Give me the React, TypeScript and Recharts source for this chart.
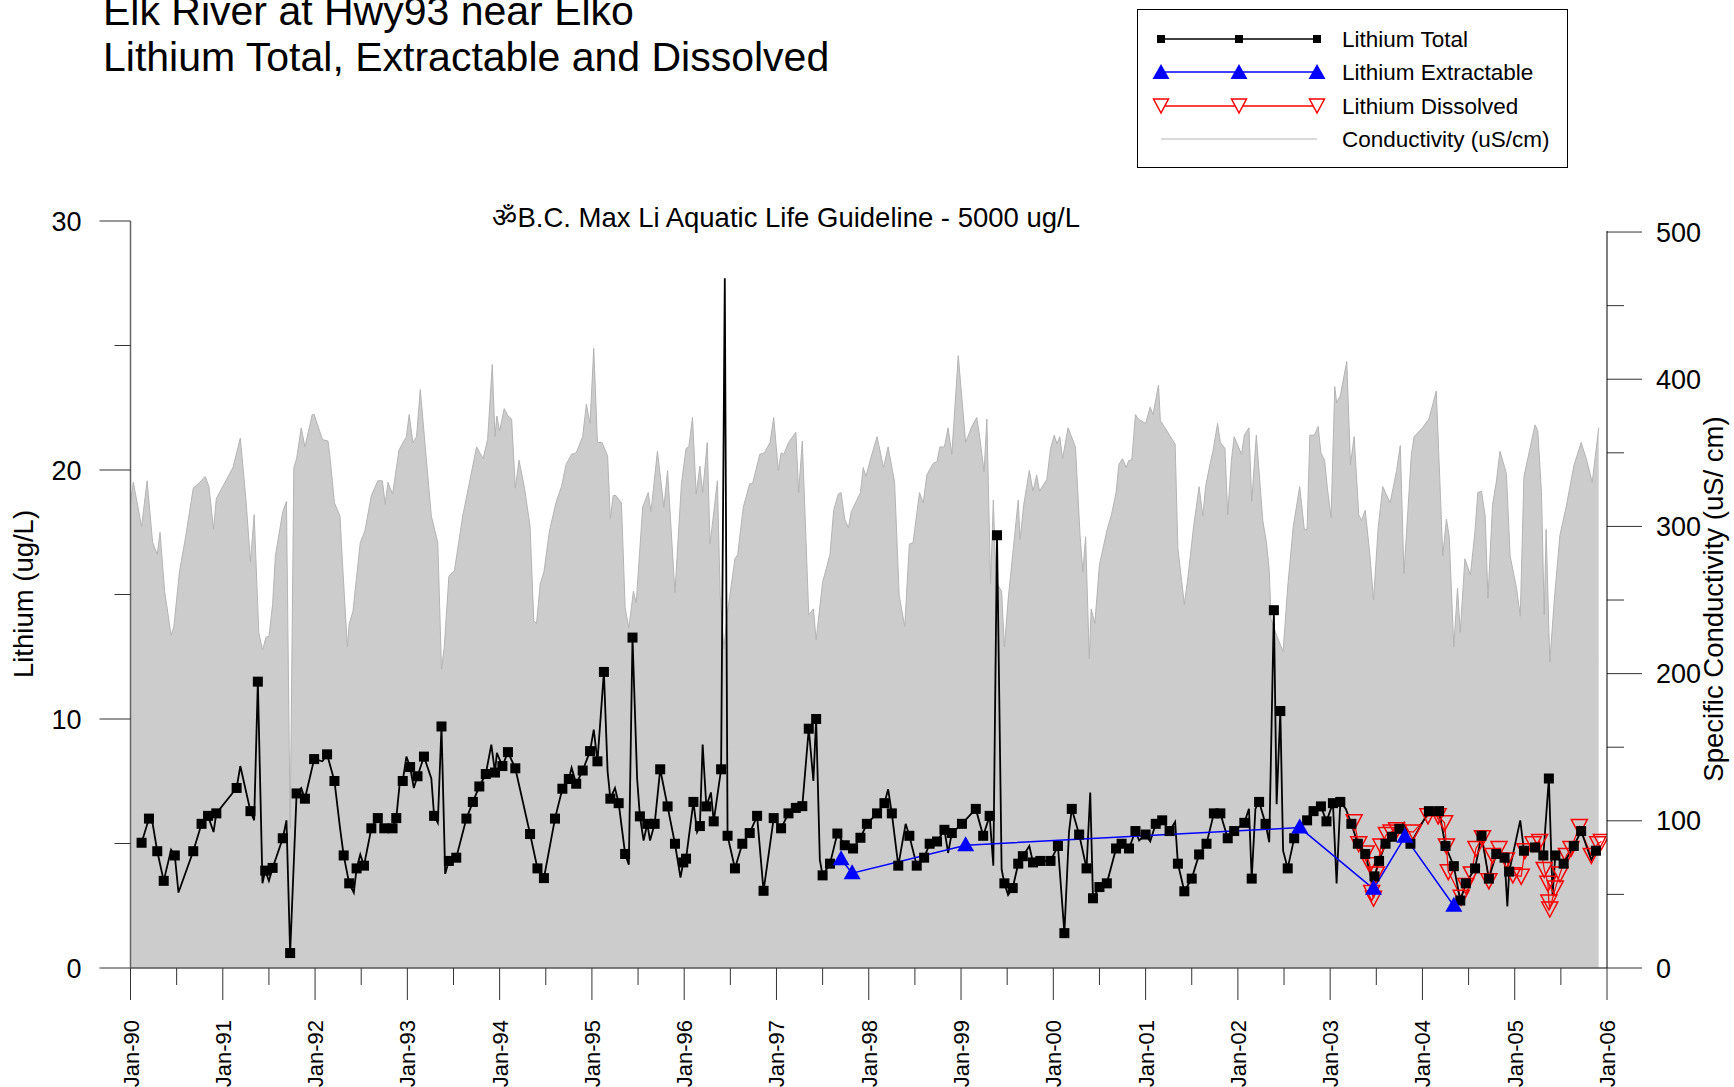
import { Area, ComposedChart, Line, XAxis, YAxis } from 'recharts'

const FONT = '"Liberation Sans", Arial, Helvetica, sans-serif'

// conductivity (uS/cm), decimal year
const condT = [
	1990.0, 1990.03, 1990.12, 1990.18, 1990.24, 1990.29, 1990.32, 1990.37, 1990.44, 1990.47, 1990.53, 1990.6, 1990.68, 1990.75,
	1990.81, 1990.85, 1990.9, 1990.93, 1991.11, 1991.19, 1991.25, 1991.3, 1991.34, 1991.39, 1991.43, 1991.47, 1991.5, 1991.54,
	1991.57, 1991.65, 1991.69, 1991.73, 1991.77, 1991.8, 1991.85, 1991.89, 1991.97, 1991.99, 1992.08, 1992.14, 1992.16, 1992.21,
	1992.27, 1992.3, 1992.35, 1992.37, 1992.41, 1992.49, 1992.54, 1992.61, 1992.68, 1992.73, 1992.76, 1992.79, 1992.84, 1992.91,
	1992.99, 1993.02, 1993.06, 1993.1, 1993.14, 1993.26, 1993.33, 1993.37, 1993.4, 1993.45, 1993.51, 1993.6, 1993.67, 1993.75,
	1993.82, 1993.87, 1993.92, 1993.95, 1993.97,
	1994.0, 1994.05, 1994.09, 1994.13, 1994.17, 1994.21, 1994.27, 1994.33, 1994.37, 1994.4, 1994.44, 1994.48, 1994.54, 1994.61,
	1994.67, 1994.72, 1994.78, 1994.83, 1994.9, 1994.94, 1994.98, 1995.02, 1995.06, 1995.11, 1995.17, 1995.2, 1995.23, 1995.26,
	1995.32, 1995.36, 1995.4, 1995.45, 1995.48, 1995.55, 1995.61, 1995.64, 1995.71, 1995.78, 1995.82, 1995.9, 1995.97, 1996.02,
	1996.05, 1996.09, 1996.13, 1996.17, 1996.2, 1996.25, 1996.28, 1996.36, 1996.39, 1996.43, 1996.47, 1996.55, 1996.58, 1996.64,
	1996.71, 1996.74, 1996.82, 1996.87, 1996.93, 1996.97, 1997.02, 1997.05, 1997.08, 1997.13, 1997.21, 1997.24, 1997.28, 1997.35,
	1997.4, 1997.43, 1997.5, 1997.58, 1997.62, 1997.67, 1997.7, 1997.74, 1997.78, 1997.81,
	1997.91, 1997.94, 1997.97, 1998.02, 1998.09, 1998.16, 1998.21, 1998.28, 1998.33, 1998.39, 1998.44, 1998.48, 1998.55, 1998.59,
	1998.63, 1998.7, 1998.74, 1998.77, 1998.82, 1998.86, 1998.9, 1998.97, 1999.05, 1999.11, 1999.17, 1999.2, 1999.25, 1999.28,
	1999.32, 1999.35, 1999.38, 1999.44, 1999.47, 1999.51, 1999.56, 1999.62, 1999.64, 1999.68, 1999.74, 1999.78, 1999.82, 1999.85,
	1999.93, 1999.97, 2000.01, 2000.04, 2000.07, 2000.1, 2000.16, 2000.24, 2000.29, 2000.32, 2000.35, 2000.39, 2000.41, 2000.45,
	2000.5, 2000.58, 2000.63, 2000.68, 2000.71, 2000.75, 2000.79, 2000.82, 2000.85, 2000.89, 2000.92, 2001.0, 2001.05, 2001.08,
	2001.14, 2001.16, 2001.2, 2001.32, 2001.35, 2001.42, 2001.46, 2001.52, 2001.58, 2001.62, 2001.65, 2001.7, 2001.73, 2001.78,
	2001.81, 2001.86, 2001.89, 2001.93, 2001.96, 2002.04, 2002.07, 2002.12, 2002.15, 2002.2, 2002.27, 2002.31, 2002.34, 2002.36,
	2002.42, 2002.49, 2002.54, 2002.6, 2002.67, 2002.72, 2002.75, 2002.78, 2002.83, 2002.87, 2002.9, 2002.94, 2002.97, 2003.01,
	2003.05, 2003.07, 2003.11, 2003.18, 2003.22, 2003.26, 2003.31, 2003.34, 2003.38, 2003.43, 2003.47, 2003.52, 2003.57, 2003.65,
	2003.72, 2003.76, 2003.8, 2003.88, 2003.91, 2004.0, 2004.07, 2004.15, 2004.19, 2004.22, 2004.26, 2004.29, 2004.34, 2004.38,
	2004.41, 2004.46, 2004.52, 2004.57, 2004.6, 2004.64, 2004.68, 2004.71, 2004.76, 2004.8, 2004.84, 2004.91, 2004.95, 2005.02,
	2005.06, 2005.1, 2005.22, 2005.25, 2005.29, 2005.32, 2005.34, 2005.38, 2005.43, 2005.49, 2005.56, 2005.64, 2005.72, 2005.78,
	2005.84, 2005.91,
]
const condV = [
	316, 330, 300, 331, 289, 281, 296, 256, 226, 232, 269, 294, 326, 330,
	334, 327, 298, 319, 340, 360, 319, 276, 308, 228, 216, 225, 225, 247,
	280, 310, 317, 95, 340, 346, 367, 354, 376, 376, 359, 358, 348, 316,
	307, 272, 218, 234, 242, 289, 297, 321, 331, 331, 315, 330, 322, 352,
	361, 376, 357, 361, 393, 307, 289, 203, 218, 266, 270, 307, 329, 354,
	346, 359, 410, 361, 375,
	365, 380, 375, 373, 326, 345, 326, 300, 236, 234, 261, 269, 297, 316,
	327, 342, 349, 350, 361, 383, 370, 421, 357, 357, 348, 305, 321, 321,
	316, 245, 231, 256, 248, 313, 323, 310, 351, 313, 338, 255, 329, 353,
	354, 374, 322, 341, 323, 357, 288, 331, 253, 217, 242, 278, 281, 313,
	329, 329, 349, 350, 357, 374, 338, 350, 349, 357, 364, 323, 358, 240,
	244, 223, 262, 281, 311, 322, 323, 305, 299, 310,
	323, 340, 334, 346, 361, 340, 354, 330, 253, 232, 288, 289, 323, 316,
	335, 343, 344, 354, 354, 367, 349, 416, 357, 367, 374, 362, 337, 373,
	261, 318, 262, 256, 218, 250, 281, 318, 291, 315, 338, 324, 335, 324,
	332, 353, 362, 356, 361, 346, 367, 354, 294, 269, 293, 210, 244, 234,
	274, 297, 308, 323, 342, 346, 340, 345, 345, 376, 373, 370, 381, 376,
	396, 372, 368, 356, 285, 247, 266, 300, 327, 307, 327, 343, 351, 370,
	357, 353, 308, 345, 361, 349, 362, 367, 317, 362, 304, 289, 270, 237,
	226, 215, 259, 300, 327, 298, 298, 362, 362, 368, 350, 345, 326, 306,
	395, 384, 389, 412, 342, 361, 308, 304, 311, 281, 250, 299, 327, 316,
	338, 355, 268, 349, 361, 367, 373, 392, 329, 280, 305, 293, 218, 258,
	228, 278, 267, 297, 323, 324, 307, 251, 315, 330, 351, 336, 280, 258,
	239, 334, 369, 365, 323, 240, 298, 208, 251, 294, 314, 341, 357, 345,
	330, 367,
]

// Lithium Total (ug/L); totalMark 1 = symbol drawn at that sample
const totalT = [
	1990.12, 1990.2, 1990.24, 1990.29, 1990.36, 1990.44, 1990.48, 1990.52, 1990.68, 1990.77, 1990.84, 1990.9, 1990.93, 1991.15,
	1991.19, 1991.3, 1991.34, 1991.38, 1991.43, 1991.46, 1991.5, 1991.54, 1991.65, 1991.69, 1991.73, 1991.8, 1991.85, 1991.89,
	1991.99, 1992.08, 1992.13, 1992.21, 1992.27, 1992.31, 1992.37, 1992.42, 1992.45, 1992.49, 1992.53, 1992.61, 1992.68, 1992.75,
	1992.84, 1992.88, 1992.92, 1992.95, 1992.99, 1993.03, 1993.07, 1993.11, 1993.18, 1993.26, 1993.29, 1993.33, 1993.37, 1993.41,
	1993.45, 1993.53, 1993.64, 1993.71, 1993.78, 1993.85, 1993.91, 1993.95, 1993.97,
	1994.03, 1994.09, 1994.17, 1994.33, 1994.41, 1994.48, 1994.6, 1994.68, 1994.75, 1994.78, 1994.83, 1994.9, 1994.98, 1995.02,
	1995.06, 1995.13, 1995.17, 1995.2, 1995.25, 1995.29, 1995.36, 1995.4, 1995.44, 1995.49, 1995.52, 1995.56, 1995.6, 1995.63,
	1995.68, 1995.74, 1995.82, 1995.9, 1995.96, 1995.99, 1996.02, 1996.1, 1996.14, 1996.17, 1996.2, 1996.24, 1996.29, 1996.32,
	1996.4, 1996.44, 1996.47, 1996.55, 1996.63, 1996.71, 1996.79, 1996.86, 1996.97, 1997.05, 1997.13, 1997.21, 1997.28, 1997.35,
	1997.4, 1997.43, 1997.47, 1997.5, 1997.58, 1997.66, 1997.74,
	1997.83, 1997.91, 1997.98, 1998.09, 1998.17, 1998.21, 1998.25, 1998.32, 1998.4, 1998.44, 1998.52, 1998.6, 1998.66, 1998.74,
	1998.82, 1998.86, 1998.9, 1999.01, 1999.16, 1999.24, 1999.31, 1999.35, 1999.39, 1999.44, 1999.47, 1999.51, 1999.56, 1999.62,
	1999.67, 1999.74, 1999.78, 1999.86, 1999.97, 2000.05, 2000.12, 2000.17, 2000.2, 2000.28, 2000.36, 2000.4, 2000.43, 2000.5,
	2000.58, 2000.68, 2000.74, 2000.82, 2000.89, 2000.93, 2001.0, 2001.05, 2001.11, 2001.18, 2001.26, 2001.32, 2001.35, 2001.42,
	2001.5, 2001.58, 2001.66, 2001.74, 2001.81,
	2001.89, 2001.96, 2002.07, 2002.12, 2002.15, 2002.19, 2002.23, 2002.3, 2002.34, 2002.39, 2002.42, 2002.46, 2002.49, 2002.54,
	2002.61, 2002.67, 2002.75, 2002.82, 2002.9, 2002.96, 2003.03, 2003.07, 2003.11, 2003.17, 2003.23, 2003.3, 2003.38, 2003.46,
	2003.48, 2003.53, 2003.6, 2003.67, 2003.75, 2003.8, 2003.87, 2004.07, 2004.18, 2004.25, 2004.34, 2004.41, 2004.47, 2004.57,
	2004.64, 2004.72, 2004.8, 2004.89, 2004.92, 2004.94, 2005.06, 2005.1, 2005.22, 2005.31, 2005.37, 2005.41, 2005.44, 2005.53,
	2005.64, 2005.72, 2005.83, 2005.88,
]
const totalV = [
	5.03, 6.0, 5.8, 4.69, 3.5, 4.75, 4.52, 3.03, 4.69, 5.79, 6.11, 5.46, 6.21, 7.23,
	8.11, 6.3, 5.93, 11.5, 3.4, 3.91, 3.5, 4.02, 5.21, 5.93, 0.6, 7.01, 7.23, 6.8,
	8.39, 8.3, 8.58, 7.51, 5.64, 4.52, 3.4, 3.03, 4.0, 4.56, 4.11, 5.61, 6.02, 5.61,
	5.61, 6.02, 7.51, 7.51, 8.49, 8.07, 7.23, 7.7, 8.49, 7.61, 6.11, 5.83, 9.7, 3.78,
	4.3, 4.43, 6.0, 6.67, 7.29, 7.79, 8.97, 7.85, 8.64,
	8.11, 8.67, 8.02, 5.38, 4.0, 3.61, 6.0, 7.2, 7.59, 8.04, 7.4, 7.93, 8.71, 9.57,
	8.3, 11.89, 7.89, 6.8, 7.23, 6.62, 4.58, 4.15, 13.27, 7.61, 6.09, 5.12, 5.79, 5.12,
	5.79, 7.98, 6.49, 4.99, 3.63, 4.24, 4.39, 6.67, 5.46, 5.7, 8.97, 6.49, 7.05, 5.89,
	7.98, 27.7, 5.31, 4.0, 4.99, 5.42, 6.11, 3.1, 6.02, 5.61, 6.21, 6.43, 6.5, 9.61,
	7.51, 10.0, 4.34, 3.72, 4.19, 5.4, 4.93,
	4.8, 5.23, 5.79, 6.21, 6.62, 7.18, 6.21, 4.11, 5.79, 5.31, 4.11, 4.43, 4.99, 5.08,
	5.55, 4.62, 5.42, 5.79, 6.39, 5.31, 6.11, 4.11, 17.38, 3.96, 3.4, 2.93, 3.21, 4.19,
	4.49, 4.9, 4.24, 4.3, 4.3, 4.9, 1.4, 5.46, 6.39, 5.36, 4.0, 7.05, 2.8, 3.25,
	3.4, 4.8, 4.99, 4.8, 5.5, 5.12, 5.36, 5.08, 5.79, 5.93, 5.5, 5.87, 4.19, 3.08,
	3.59, 4.56, 4.99, 6.21, 6.21,
	5.21, 5.5, 5.83, 6.39, 3.59, 6.39, 6.67, 5.79, 5.05, 14.37, 6.58, 10.32, 4.71, 4.0,
	5.21, 5.64, 5.93, 6.3, 6.49, 5.89, 6.62, 3.4, 6.67, 6.39, 5.79, 4.99, 4.58, 3.4,
	3.68, 4.3, 4.99, 5.27, 5.59, 5.83, 4.99, 6.3, 6.3, 4.9, 4.09, 2.71, 3.4, 4.0,
	5.31, 3.59, 4.58, 4.43, 2.47, 3.87, 5.93, 4.71, 4.84, 4.52, 7.61, 2.93, 4.52, 4.19,
	4.9, 5.5, 4.34, 4.71,
]
const totalMark = [
	1, 1, 0, 1, 1, 0, 1, 0, 1, 1, 1, 0, 1, 1,
	0, 1, 0, 1, 0, 1, 0, 1, 1, 0, 1, 1, 0, 1,
	1, 0, 1, 1, 0, 1, 1, 0, 1, 0, 1, 1, 1, 1,
	1, 1, 0, 1, 0, 1, 0, 1, 1, 0, 1, 0, 1, 0,
	1, 1, 1, 1, 1, 1, 0, 1, 0,
	1, 1, 1, 1, 1, 1, 1, 1, 1, 0, 1, 1, 1, 0,
	1, 1, 0, 1, 0, 1, 1, 0, 1, 0, 1, 0, 1, 0,
	1, 1, 1, 1, 0, 1, 1, 1, 0, 1, 0, 1, 0, 1,
	1, 0, 1, 1, 1, 1, 1, 1, 1, 1, 1, 1, 1, 1,
	0, 1, 0, 1, 1, 1, 1,
	1, 1, 1, 1, 1, 0, 1, 1, 0, 1, 1, 1, 1, 1,
	1, 0, 1, 1, 1, 1, 1, 0, 1, 0, 1, 0, 1, 1,
	1, 0, 1, 1, 1, 1, 1, 0, 1, 1, 1, 0, 1, 1,
	1, 1, 1, 1, 1, 0, 1, 0, 1, 1, 1, 0, 1, 1,
	1, 1, 1, 1, 1,
	1, 1, 1, 0, 1, 0, 1, 1, 0, 1, 0, 1, 0, 1,
	1, 0, 1, 1, 1, 1, 1, 0, 1, 0, 1, 1, 1, 0,
	1, 1, 1, 1, 1, 0, 1, 1, 1, 1, 1, 1, 1, 1,
	1, 1, 1, 1, 0, 1, 0, 1, 1, 1, 1, 0, 1, 1,
	1, 1, 0, 1,
]

// Lithium Extractable (ug/L)
const extrT = [1997.7, 1997.82, 1999.05, 2002.67, 2003.47, 2003.81, 2004.34]
const extrV = [4.37, 3.81, 4.93, 5.64, 3.18, 5.27, 2.5]

// Lithium Dissolved (ug/L)
const dissT = [
	2003.26, 2003.31, 2003.39, 2003.43, 2003.45, 2003.47, 2003.5, 2003.55, 2003.61, 2003.66, 2003.72, 2003.9, 2004.06, 2004.17,
	2004.24, 2004.26, 2004.28, 2004.42, 2004.47, 2004.53, 2004.58, 2004.65, 2004.72, 2004.76, 2004.83, 2004.91, 2004.98, 2005.07,
	2005.11, 2005.2, 2005.27, 2005.32, 2005.36, 2005.37, 2005.38, 2005.44, 2005.49, 2005.56, 2005.61, 2005.7, 2005.83, 2005.9,
	2005.94,
]
const dissV = [
	5.87, 4.99, 4.62, 4.15, 3.03, 2.8, 3.78, 4.9, 5.36, 5.46, 5.55, 5.46, 6.11, 6.11,
	5.83, 4.9, 3.87, 2.84, 3.31, 3.78, 4.8, 5.23, 3.5, 4.52, 4.8, 4.34, 3.74, 3.68,
	4.71, 4.99, 5.08, 3.96, 3.4, 2.65, 2.37, 3.21, 3.78, 4.52, 4.8, 5.68, 4.52, 4.99,
	5.08,
]

const yearTicks = Array.from({ length: 33 }, (_, i) => 1990 + i / 2)
const janLabels = ['Jan-90', 'Jan-91', 'Jan-92', 'Jan-93', 'Jan-94', 'Jan-95', 'Jan-96', 'Jan-97', 'Jan-98', 'Jan-99', 'Jan-00', 'Jan-01', 'Jan-02', 'Jan-03', 'Jan-04', 'Jan-05', 'Jan-06']
const liTicks = [0, 5, 10, 15, 20, 25, 30]
const condTicks = [0, 50, 100, 150, 200, 250, 300, 350, 400, 450, 500]

type Row = { t: number; cond: number | null; total: number | null; mark: number; extr: number | null; diss: number | null }

const rowMap = new Map<number, Row>()
const put = (t: number, key: 'cond' | 'total' | 'extr' | 'diss', v: number, mark = 0) => {
	const r = rowMap.get(t) ?? { t, cond: null, total: null, mark: 0, extr: null, diss: null }
	r[key] = v
	if (key === 'total') r.mark = mark
	rowMap.set(t, r)
}
condT.forEach((t, i) => put(t, 'cond', condV[i]))
totalT.forEach((t, i) => put(t, 'total', totalV[i], totalMark[i]))
extrT.forEach((t, i) => put(t, 'extr', extrV[i]))
dissT.forEach((t, i) => put(t, 'diss', dissV[i]))
const rows = [...rowMap.values()].sort((a, b) => a.t - b.t)

const XTick = (props: any) => {
	const { x, y, payload } = props
	const major = Number.isInteger(payload.value)
	return (
		<g>
			<line x1={x} x2={x} y1={y} y2={y + (major ? 32 : 17)} stroke='#333' strokeWidth={1} />
			{major && (
				<text transform={`translate(${x + 8},${y + 52}) rotate(-90)`} textAnchor='end' fontSize={22} fontFamily={FONT} fill='#000'>
					{janLabels[Math.round(payload.value) - 1990]}
				</text>
			)}
		</g>
	)
}

const LiTick = (props: any) => {
	const { x, y, payload } = props
	const major = payload.value % 10 === 0
	return (
		<g>
			<line x1={x - (major ? 31 : 16)} x2={x} y1={y} y2={y} stroke='#333' strokeWidth={1} />
			{major && (
				<text x={x - 49} y={y + 9.5} textAnchor='end' fontSize={27} fontFamily={FONT} fill='#000'>
					{payload.value}
				</text>
			)}
		</g>
	)
}

const CondTick = (props: any) => {
	const { x, y, payload } = props
	const major = payload.value % 100 === 0
	return (
		<g>
			<line x1={x} x2={x + (major ? 35 : 17)} y1={y} y2={y} stroke='#333' strokeWidth={1} />
			{major && (
				<text x={x + 49} y={y + 9.5} textAnchor='start' fontSize={27} fontFamily={FONT} fill='#000'>
					{payload.value}
				</text>
			)}
		</g>
	)
}

const SquareDot = (props: any) => {
	const { cx, cy, payload, index } = props
	if (cy == null || isNaN(cy) || !payload?.mark) return <g key={`sq${index}`} />
	return <rect key={`sq${index}`} x={cx - 5} y={cy - 5} width={10} height={10} fill='#000' />
}

const UpTriangle = (props: any) => {
	const { cx, cy, index } = props
	if (cy == null || isNaN(cy)) return <g key={`ut${index}`} />
	return <polygon key={`ut${index}`} points={`${cx},${cy - 9} ${cx - 8.5},${cy + 6} ${cx + 8.5},${cy + 6}`} fill='#0000ff' />
}

const DownTriangle = (props: any) => {
	const { cx, cy, index } = props
	if (cy == null || isNaN(cy)) return <g key={`dt${index}`} />
	return (
		<polygon
			key={`dt${index}`}
			points={`${cx - 8},${cy - 7} ${cx + 8},${cy - 7} ${cx},${cy + 8}`}
			fill='none'
			stroke='#ff0000'
			strokeWidth={1.5}
		/>
	)
}

const LegendRow = ({ y, kind, label }: { y: number; kind: string; label: string }) => {
	const xs = [1161, 1239, 1317]
	const color = kind === 'total' ? '#000' : kind === 'extr' ? '#0000ff' : kind === 'diss' ? '#ff0000' : '#b4b4b4'
	return (
		<g>
			<line x1={1161} x2={1317} y1={y} y2={y} stroke={color} strokeWidth={kind === 'cond' ? 1 : 1.5} />
			{kind === 'total' && xs.map(x => <rect key={x} x={x - 4} y={y - 4} width={8} height={8} fill='#000' />)}
			{kind === 'extr' && xs.map(x => <polygon key={x} points={`${x},${y - 8} ${x - 8.5},${y + 7} ${x + 8.5},${y + 7}`} fill='#0000ff' />)}
			{kind === 'diss' &&
				xs.map(x => (
					<polygon key={x} points={`${x - 7.5},${y - 7} ${x + 7.5},${y - 7} ${x},${y + 7}`} fill='#fff' stroke='#ff0000' strokeWidth={1.5} />
				))}
			<text x={1342} y={y + 7.5} fontSize={22.5} fontFamily={FONT} fill='#000'>
				{label}
			</text>
		</g>
	)
}

export default function App() {
	return (
		<div style={{ position: 'absolute', left: 0, top: 0, width: 1734, height: 1087, background: '#fff' }}>
			<ComposedChart width={1734} height={1087} data={rows} margin={{ top: 221, right: 27, bottom: 0, left: 30.5 }}>
				<XAxis
					dataKey='t'
					type='number'
					domain={[1990, 2006]}
					ticks={yearTicks}
					interval={0}
					allowDataOverflow
					height={119}
					tickSize={0}
					tickMargin={0}
					tickLine={false}
					tick={XTick}
					axisLine={{ stroke: '#555', strokeWidth: 1.5 }}
				/>
				<YAxis
					yAxisId='li'
					domain={[0, 30]}
					ticks={liTicks}
					interval={0}
					allowDataOverflow
					width={100}
					tickSize={0}
					tickMargin={0}
					tickLine={false}
					tick={LiTick}
					axisLine={{ stroke: '#666', strokeWidth: 1.5 }}
				/>
				<YAxis
					yAxisId='c'
					orientation='right'
					domain={[0, 507.5]}
					ticks={condTicks}
					interval={0}
					allowDataOverflow
					width={100}
					tickSize={0}
					tickMargin={0}
					tickLine={false}
					tick={CondTick}
					axisLine={false}
				/>
				<Area
					yAxisId='c'
					type='linear'
					dataKey='cond'
					fill='#cccccc'
					fillOpacity={1}
					stroke='#b4b4b4'
					strokeWidth={1}
					connectNulls
					dot={false}
					activeDot={false}
					isAnimationActive={false}
				/>
				<Line
					yAxisId='li'
					type='linear'
					dataKey='diss'
					stroke='#ff0000'
					strokeWidth={1.2}
					connectNulls
					dot={DownTriangle}
					activeDot={false}
					isAnimationActive={false}
				/>
				<Line
					yAxisId='li'
					type='linear'
					dataKey='total'
					stroke='#000'
					strokeWidth={1.8}
					connectNulls
					dot={SquareDot}
					activeDot={false}
					isAnimationActive={false}
				/>
				<Line
					yAxisId='li'
					type='linear'
					dataKey='extr'
					stroke='#0000ff'
					strokeWidth={1.5}
					connectNulls
					dot={UpTriangle}
					activeDot={false}
					isAnimationActive={false}
				/>
			</ComposedChart>
			<svg width={1734} height={1087} style={{ position: 'absolute', left: 0, top: 0, pointerEvents: 'none' }}>
				<line x1={1607} x2={1607} y1={231} y2={968} stroke='#000' strokeWidth={1} />
				<text x={103} y={25} fontSize={41} fontFamily={FONT} fill='#000'>
					Elk River at Hwy93 near Elko
				</text>
				<text x={103} y={71} fontSize={41} fontFamily={FONT} fill='#000'>
					Lithium Total, Extractable and Dissolved
				</text>
				<text x={1080} y={226.5} textAnchor='end' fontSize={27.5} fontFamily={FONT} fill='#000'>
					ॐB.C. Max Li Aquatic Life Guideline - 5000 ug/L
				</text>
				<text transform='translate(33,594) rotate(-90)' textAnchor='middle' fontSize={27.5} fontFamily={FONT} fill='#000'>
					Lithium (ug/L)
				</text>
				<text transform='translate(1723,599) rotate(-90)' textAnchor='middle' fontSize={27.5} fontFamily={FONT} fill='#000'>
					Specific Conductivity (uS/ cm)
				</text>
				<rect x={1137.5} y={9.5} width={430} height={158} fill='#fff' stroke='#000' strokeWidth={1} />
				<LegendRow y={39} kind='total' label='Lithium Total' />
				<LegendRow y={72} kind='extr' label='Lithium Extractable' />
				<LegendRow y={106} kind='diss' label='Lithium Dissolved' />
				<LegendRow y={139} kind='cond' label='Conductivity (uS/cm)' />
			</svg>
		</div>
	)
}
